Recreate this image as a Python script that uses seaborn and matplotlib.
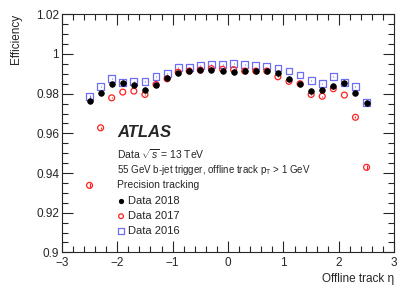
import numpy as np
import pandas as pd
import seaborn as sns
import matplotlib.pyplot as plt
from matplotlib.ticker import MultipleLocator

eta = [-2.5, -2.3, -2.1, -1.9, -1.7, -1.5, -1.3, -1.1, -0.9, -0.7, -0.5, -0.3, -0.1,
       0.1, 0.3, 0.5, 0.7, 0.9, 1.1, 1.3, 1.5, 1.7, 1.9, 2.1, 2.3, 2.5]
eff_2018 = [0.9762, 0.9805, 0.9850, 0.9855, 0.9843, 0.9816, 0.9846, 0.9877, 0.9905, 0.9914,
            0.9919, 0.9919, 0.9916, 0.9909, 0.9914, 0.9914, 0.9914, 0.9905, 0.9872, 0.9850,
            0.9813, 0.9821, 0.9841, 0.9852, 0.9801, 0.9754]
eff_2017 = [0.9338, 0.9628, 0.9779, 0.9808, 0.9813, 0.9796, 0.9846, 0.9875, 0.9908, 0.9914,
            0.9919, 0.9926, 0.9923, 0.9921, 0.9914, 0.9914, 0.9914, 0.9885, 0.9862, 0.9850,
            0.9796, 0.9787, 0.9825, 0.9793, 0.9681, 0.9429]
eff_2016 = [0.9787, 0.9838, 0.9875, 0.9858, 0.9862, 0.9862, 0.9888, 0.9902, 0.9932, 0.9932,
            0.9942, 0.9949, 0.9949, 0.9953, 0.9949, 0.9944, 0.9939, 0.9929, 0.9914, 0.9894,
            0.9868, 0.9852, 0.9885, 0.9855, 0.9838, 0.9754]
err_2017 = [0.0012, 0.0006] + [0.0002] * 22 + [0.0006, 0.0012]
err_2016 = [0.0008] + [0.0002] * 24 + [0.0009]

xticks = [-3, -2, -1, 0, 1, 2, 3]
xticklabels = ["\u22123", "\u22122", "\u22121", "0", "1", "2", "3"]
yticks = [0.9, 0.92, 0.94, 0.96, 0.98, 1.0, 1.02]
yticklabels = ["0.9", "0.92", "0.94", "0.96", "0.98", "1", "1.02"]

df = pd.DataFrame({"eta": eta, "2018": eff_2018, "2017": eff_2017, "2016": eff_2016})

sns.set_style("ticks")
plt.rcParams["font.family"] = ["Liberation Sans", "DejaVu Sans"]
plt.rcParams["mathtext.fontset"] = "custom"
plt.rcParams["mathtext.rm"] = "Liberation Sans"
plt.rcParams["mathtext.it"] = "Liberation Sans:italic"

fig = plt.figure(figsize=(4.15, 2.98), dpi=100)
ax = fig.add_axes([0.149, 0.153, 0.801, 0.799])

red = "#ff2020"
blue = "#6e6ef5"
ax.errorbar(df["eta"], df["2017"], yerr=err_2017, fmt="none", ecolor=red, elinewidth=0.8)
ax.errorbar(df["eta"], df["2016"], yerr=err_2016, fmt="none", ecolor=blue, elinewidth=0.8)
sns.scatterplot(data=df, x="eta", y="2018", ax=ax, marker="o", color="black",
                edgecolor="black", s=16, linewidth=0.6, label="Data 2018", zorder=4)
sns.scatterplot(data=df, x="eta", y="2017", ax=ax, marker="o", facecolors="none",
                edgecolor=red, s=18, linewidth=0.9, label="Data 2017", zorder=3)
sns.scatterplot(data=df, x="eta", y="2016", ax=ax, marker="s", facecolors="none",
                edgecolor=blue, s=24, linewidth=0.9, label="Data 2016", zorder=2)

ax.set_xticks(xticks)
ax.set_xticklabels(xticklabels)
ax.set_yticks(yticks)
ax.set_yticklabels(yticklabels)
ax.xaxis.set_minor_locator(MultipleLocator(0.2))
ax.yaxis.set_minor_locator(MultipleLocator(0.005))
ax.set_xlim(-3, 3)
ax.set_ylim(0.9, 1.02)
ax.tick_params(which="both", direction="in", top=True, right=True, labelsize=8.5, width=0.8)
ax.tick_params(axis="x", pad=3)
ax.tick_params(axis="y", pad=2)
ax.tick_params(which="major", length=8)
ax.tick_params(which="minor", length=4)
for s in ax.spines.values():
    s.set_linewidth(0.8)

ax.set_xlabel("Offline track \u03b7", fontsize=8.5, loc="right", labelpad=3)
ax.set_ylabel("Efficiency", fontsize=8.5, loc="top", labelpad=10)

ax.text(0.166, 0.502, "ATLAS", transform=ax.transAxes, fontsize=12, fontweight="bold",
        style="italic", va="center")
ax.text(0.166, 0.414, r"Data $\sqrt{s}$ = 13 TeV", transform=ax.transAxes, fontsize=7.5, va="center")
ax.text(0.166, 0.346, r"55 GeV b-jet trigger, offline track p$_{\rm T}$ > 1 GeV",
        transform=ax.transAxes, fontsize=7, va="center")
ax.text(0.166, 0.283, "Precision tracking", transform=ax.transAxes, fontsize=7.5, va="center")

ax.legend(loc="upper left", bbox_to_anchor=(0.143, 0.255), frameon=False, fontsize=8,
          handletextpad=0.0, labelspacing=0.45, handlelength=1.3, borderaxespad=0,
          markerscale=0.8)

fig.savefig("out.png", dpi=100)
